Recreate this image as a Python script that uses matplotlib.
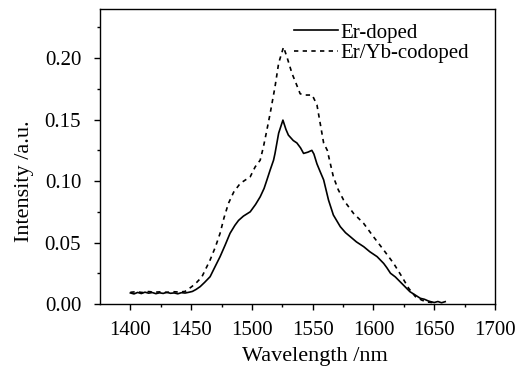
import matplotlib
matplotlib.use('Agg')
import matplotlib.pyplot as plt
import numpy as np
from matplotlib.ticker import MultipleLocator, FormatStrFormatter

# Er-doped (solid) spectrum
er_wl = [1400, 1403, 1406, 1409, 1412, 1415, 1418, 1421, 1424, 1427, 1430, 1433,
         1436, 1439, 1442, 1445, 1448, 1451, 1454, 1457.4, 1461, 1465.6, 1469.5,
         1473.8, 1478, 1482, 1486, 1489, 1493, 1498.6, 1503, 1506.8, 1510, 1512.3,
         1515, 1517.8, 1519, 1522, 1525.5, 1528, 1530, 1534, 1537, 1540, 1542.5,
         1546, 1549.3, 1551, 1553.5, 1556, 1559, 1563, 1567, 1572.7, 1577, 1581,
         1586, 1592, 1597, 1603, 1608.4, 1611, 1614, 1618, 1622, 1626, 1630, 1634,
         1638.6, 1642, 1645, 1647, 1650, 1653, 1656, 1659]
er_int = [0.0090, 0.0082, 0.0094, 0.0085, 0.0096, 0.0088, 0.0093, 0.0084, 0.0091,
          0.0086, 0.0095, 0.0087, 0.0090, 0.0083, 0.0092, 0.0089, 0.0095, 0.0102,
          0.0118, 0.0141, 0.0175, 0.0222, 0.0300, 0.0385, 0.0480, 0.0575, 0.0640,
          0.0680, 0.0715, 0.0750, 0.0810, 0.0872, 0.0940, 0.1008, 0.1090, 0.1170,
          0.1225, 0.1390, 0.1496, 0.1420, 0.1374, 0.1330, 0.1310, 0.1270, 0.1225,
          0.1235, 0.1250, 0.1220, 0.1140, 0.1080, 0.1010, 0.0846, 0.0724, 0.0629,
          0.0580, 0.0547, 0.0505, 0.0466, 0.0425, 0.0385, 0.0330, 0.0295, 0.0250,
          0.0220, 0.0180, 0.0140, 0.0100, 0.0075, 0.0046, 0.0038, 0.0025, 0.0019,
          0.0012, 0.0020, 0.0010, 0.0019]

# Er/Yb-codoped (dashed) spectrum
yb_wl = [1400, 1405, 1410, 1415, 1420, 1425, 1430, 1435, 1440, 1445, 1450.5,
         1454.5, 1458.8, 1462, 1465.6, 1470, 1473.8, 1477, 1480.7, 1485, 1490.3,
         1494, 1498.6, 1502.7, 1506.8, 1509.5, 1512, 1515, 1519, 1522, 1526,
         1528.8, 1533, 1536.5, 1539.7, 1544, 1549.6, 1553.5, 1559, 1562, 1567,
         1571, 1575.4, 1583.6, 1591.9, 1600, 1608.4, 1616.6, 1623.5, 1629, 1634.5,
         1640, 1645, 1650]
yb_int = [0.0095, 0.0100, 0.0093, 0.0101, 0.0096, 0.0099, 0.0094, 0.0100, 0.0097,
          0.0102, 0.0141, 0.0175, 0.0220, 0.0285, 0.0358, 0.0465, 0.0575, 0.0700,
          0.0819, 0.0910, 0.0980, 0.1005, 0.1035, 0.1116, 0.1170, 0.1280, 0.1400,
          0.1550, 0.1767, 0.1960, 0.2090, 0.2010, 0.1875, 0.1790, 0.1710, 0.1700,
          0.1700, 0.1620, 0.1310, 0.1250, 0.1035, 0.0930, 0.0846, 0.0737, 0.0656,
          0.0547, 0.0439, 0.0330, 0.0220, 0.0127, 0.0060, 0.0030, 0.0015, 0.0010]

series_labels = ['Er-doped', 'Er/Yb-codoped']

plt.rcParams['font.family'] = ['Liberation Serif', 'DejaVu Serif']

fig = plt.figure(figsize=(5.24, 3.69), dpi=100)
ax = fig.add_axes([0.1908, 0.1762, 0.7539, 0.7994])

ax.plot(er_wl, er_int, color='black', lw=1.2, ls='-', label=series_labels[0])
ax.plot(yb_wl, yb_int, color='black', lw=1.2, ls=(0, (2.6, 2.6)), label=series_labels[1])

ax.set_xlim(1375, 1700)
ax.set_ylim(0, 0.24)
ax.xaxis.set_major_locator(MultipleLocator(50))
ax.yaxis.set_major_locator(MultipleLocator(0.05))
ax.yaxis.set_minor_locator(MultipleLocator(0.025))
ax.yaxis.set_major_formatter(FormatStrFormatter('%.2f'))
ax.xaxis.set_major_formatter(FormatStrFormatter('%d'))
# minor x ticks every 25 nm, starting at 1400
ax.set_xticks([1400 + 25 * i for i in range(12)], minor=True)

ax.tick_params(axis='both', which='major', direction='out', length=4.5, width=1.0,
               labelsize=15, top=False, right=False)
ax.tick_params(axis='both', which='minor', direction='out', length=2.5, width=1.0,
               top=False, right=False)
ax.tick_params(axis='y', which='major', pad=9)
ax.tick_params(axis='x', which='major', pad=8)
for s in ax.spines.values():
    s.set_linewidth(1.0)

ax.set_xlabel('Wavelength /nm', fontsize=16)
ax.xaxis.set_label_coords(0.543, -0.145)
ax.set_ylabel('Intensity /a.u.', fontsize=16)
ax.yaxis.set_label_coords(-0.168, 0.417)

ax.legend(loc='upper left', frameon=False, fontsize=15, handlelength=2.1,
          handletextpad=0.15, labelspacing=0.05, borderpad=0, borderaxespad=0,
          bbox_to_anchor=(0.491, 0.952))

fig.savefig('out.png', dpi=100)
